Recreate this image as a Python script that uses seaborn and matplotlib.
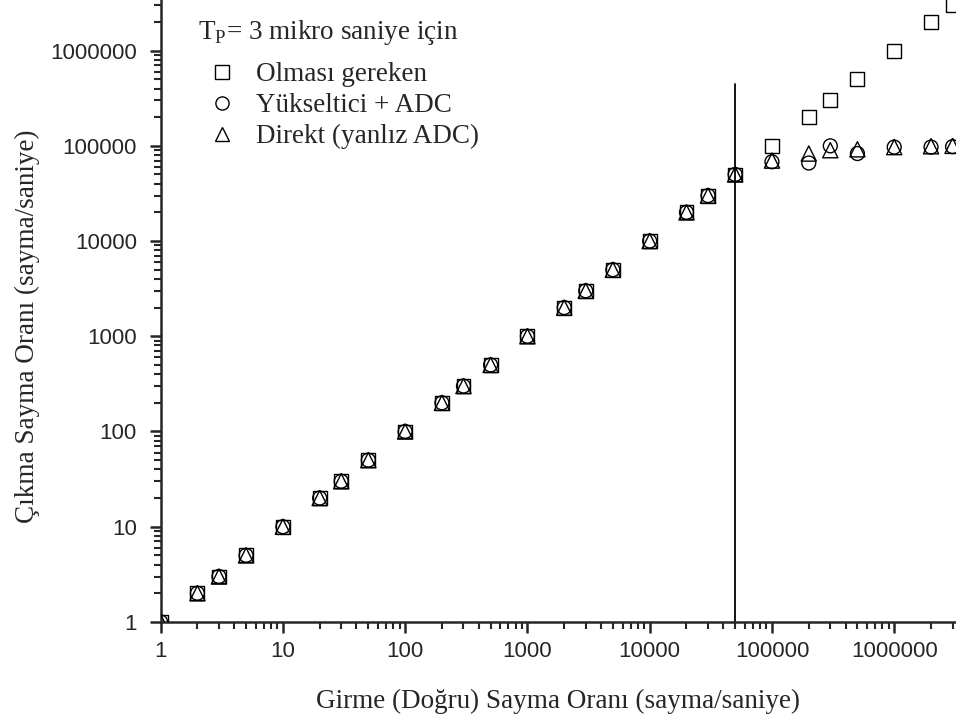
import numpy as np
import pandas as pd
import matplotlib
matplotlib.use('Agg')
import matplotlib.pyplot as plt
from matplotlib.lines import Line2D
import seaborn as sns

# ── data ────────────────────────────────────────────────────────────────────
girme = [1, 2, 3, 5, 10, 20, 30, 50, 100, 200, 300, 500, 1000, 2000, 3000,
         5000, 10000, 20000, 30000, 50000, 100000, 200000, 300000, 500000,
         1000000, 2000000, 3000000]
olmasi_gereken = list(girme)
yukseltici_adc = [1, 2, 3, 5, 10, 20, 30, 50, 100, 200, 300, 500, 1000, 2000,
                  3000, 5000, 10000, 20000, 30000, 50000, 68000, 66000,
                  100000, 83000, 97000, 97000, 98000]
direkt_adc = [1, 2, 3, 5, 10, 20, 30, 50, 100, 200, 300, 500, 1000, 2000,
              3000, 5000, 10000, 20000, 30000, 50000, 70000, 83000,
              90000, 92000, 97000, 99000, 100000]
series_names = ['Olması gereken', 'Yükseltici + ADC', 'Direkt (yanlız ADC)']
series_markers = ['s', 'o', '^']
vline_x = 50000
vline_top = 450000

df = pd.DataFrame({
    'girme': girme * 3,
    'cikma': olmasi_gereken + yukseltici_adc + direkt_adc,
    'seri': np.repeat(series_names, len(girme)),
})

# ── style ───────────────────────────────────────────────────────────────────
sns.set_style('ticks')
plt.rcParams['font.family'] = ['Liberation Sans', 'DejaVu Sans']
plt.rcParams['mathtext.fontset'] = 'custom'
plt.rcParams['mathtext.rm'] = 'Liberation Serif'
SERIF = ['Liberation Serif', 'DejaVu Serif']

fig = plt.figure(figsize=(9.56, 7.19), dpi=100)
ax = fig.add_axes([0.168, 0.135, 0.832, 0.865])

for name, mk in zip(series_names, series_markers):
    sub = df[df['seri'] == name]
    size = 120 if mk == '^' else 100
    sns.scatterplot(data=sub, x='girme', y='cikma', marker=mk, s=size,
                    facecolor='none', edgecolor='black', linewidth=1.0,
                    ax=ax, legend=False, clip_on=True, zorder=3)
for coll in ax.collections:
    coll.set_facecolor('none')

ax.plot([vline_x, vline_x], [1, vline_top], color='black', lw=1.3, zorder=2)

ax.set_xscale('log')
ax.set_yscale('log')
ax.set_xlim(1, 3.2e6)
ax.set_ylim(1, 3.4e6)

xt = [1, 10, 100, 1000, 10000, 100000, 1000000]
ax.set_xticks(xt)
ax.set_xticklabels([str(v) for v in xt])
ax.set_yticks(xt)
ax.set_yticklabels([str(v) for v in xt])
ax.tick_params(which='major', length=8, width=1.8, labelsize=16, direction='out', pad=6)
ax.tick_params(axis='y', which='major', pad=9)
ax.tick_params(which='minor', length=5, width=1.5, direction='out')
for s in ['left', 'bottom']:
    ax.spines[s].set_linewidth(1.8)
sns.despine(ax=ax)

ax.set_xlabel('Girme (Doğru) Sayma Oranı (sayma/saniye)', family=SERIF,
              fontsize=19.5, labelpad=19)
ax.set_ylabel('Çıkma Sayma Oranı (sayma/saniye)', family=SERIF,
              fontsize=19.5)
ax.yaxis.set_label_coords(-0.152, 0.476)

# legend block
ax.text(0.0465, 0.947, 'T$_\\mathrm{P}$= 3 mikro saniye için', transform=ax.transAxes,
        family=SERIF, fontsize=19.5, va='center', ha='left')
handles = [Line2D([], [], ls='none', marker=mk, mfc='none', mec='black',
                  ms=9.5, mew=1.0) for mk in series_markers]
leg = ax.legend(handles, series_names, loc='upper left',
                bbox_to_anchor=(0.057, 0.900), frameon=False,
                prop={'family': SERIF, 'size': 19.5}, handlelength=1.2,
                handletextpad=0.65, labelspacing=0.22, borderaxespad=0,
                borderpad=0)

fig.savefig('out.png', dpi=100)
